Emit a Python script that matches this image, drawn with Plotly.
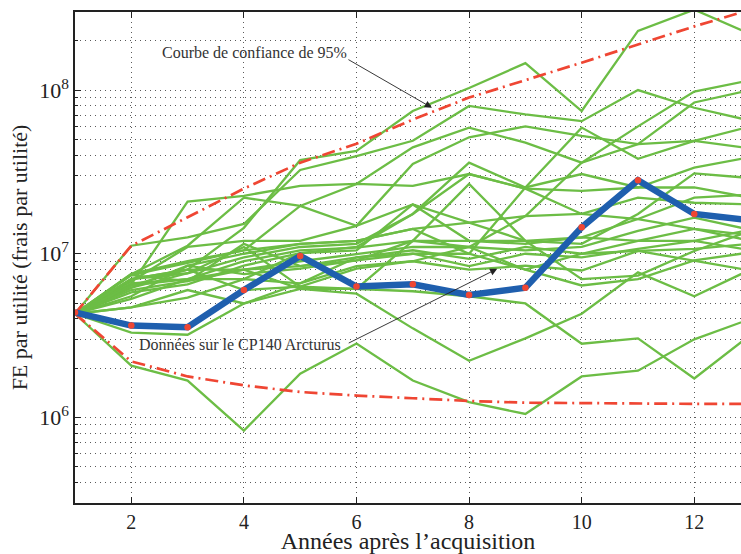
import plotly.graph_objects as go

# Années après l'acquisition
years = list(range(1, 14))

# Données réelles du CP140 Arcturus (FE par utilité)
cp140 = [4.38e6, 3.64e6, 3.56e6, 6.0e6, 9.7e6, 6.3e6, 6.5e6, 5.6e6, 6.2e6,
         1.45e7, 2.81e7, 1.75e7, 1.6e7]

# Bornes de l'intervalle de confiance à 95 %
conf_upper = [4.3e6, 1.12e7, 1.67e7, 2.5e7, 3.6e7, 4.7e7, 6.6e7, 9.0e7, 1.15e8,
              1.47e8, 1.9e8, 2.45e8, 3.1e8]
conf_lower = [4.3e6, 2.2e6, 1.78e6, 1.57e6, 1.43e6, 1.36e6, 1.31e6, 1.26e6,
              1.23e6, 1.22e6, 1.21e6, 1.21e6, 1.21e6]

# Trajectoires simulées
sim_paths = [
    [4.3e6, 7.0e6, 8.0e6, 1.44e7, 3.73e7, 4.25e7, 7.45e7, 1.03e8, 1.46e8, 7.45e7, 2.3e8, 3.1e8, 2.2e8],
    [4.3e6, 1.12e7, 1.26e7, 1.52e7, 3.25e7, 3.95e7, 4.9e7, 8.0e7, 7.1e7, 6.46e7, 1.0e8, 7.8e7, 6.5e7],
    [4.3e6, 6.5e6, 2.08e7, 2.26e7, 2.6e7, 2.67e7, 2.6e7, 3.07e7, 2.5e7, 2.42e7, 2.54e7, 2.54e7, 2.2e7],
    [4.3e6, 7.5e6, 1.12e7, 2.2e7, 1.96e7, 1.48e7, 2.0e7, 1.55e7, 1.7e7, 1.75e7, 2.2e7, 2.05e7, 2.0e7],
    [4.3e6, 7.4e6, 8.8e6, 1.05e7, 1.96e7, 2.67e7, 4.47e7, 5.9e7, 4.77e7, 3.6e7, 6.0e7, 9.8e7, 1.15e8],
    [4.3e6, 6.8e6, 1.1e7, 1.2e7, 1.2e7, 1.48e7, 3.54e7, 5.15e7, 6.0e7, 5.25e7, 4.68e7, 8.4e7, 1.0e8],
    [4.3e6, 6.2e6, 8.45e6, 1.0e7, 1.15e7, 1.2e7, 1.42e7, 1.0e7, 2.54e7, 5.9e7, 3.8e7, 4.9e7, 6.0e7],
    [4.3e6, 7.0e6, 7.6e6, 9.5e6, 1.1e7, 1.15e7, 1.75e7, 3.6e7, 2.54e7, 3.07e7, 2.54e7, 3.36e7, 3.9e7],
    [4.3e6, 6.6e6, 7.0e6, 9.0e6, 1.05e7, 1.09e7, 1.2e7, 2.67e7, 1.2e7, 1.15e7, 1.75e7, 3.1e7, 2.9e7],
    [4.3e6, 5.8e6, 6.5e6, 8.45e6, 1.01e7, 1.05e7, 2.0e7, 1.2e7, 1.15e7, 1.26e7, 1.63e7, 2.2e7, 2.3e7],
    [4.3e6, 6.4e6, 8.0e6, 8.0e6, 9.0e6, 1.0e7, 1.1e7, 1.1e7, 1.05e7, 1.1e7, 1.38e7, 1.66e7, 1.4e7],
    [4.3e6, 7.4e6, 6.8e6, 1.15e7, 8.4e6, 9.5e6, 1.05e7, 9.3e6, 1.1e7, 1.0e7, 1.2e7, 1.42e7, 1.2e7],
    [4.3e6, 5.5e6, 8.45e6, 7.5e6, 8.1e6, 9.1e6, 1.0e7, 8.4e6, 1.0e7, 9.5e6, 1.07e7, 1.2e7, 1.05e7],
    [4.3e6, 4.7e6, 5.4e6, 7.0e6, 6.6e6, 8.4e6, 9.0e6, 8.0e6, 8.45e6, 7.9e6, 1.04e7, 1.07e7, 1.15e7],
    [4.3e6, 6.2e6, 7.6e6, 1.1e7, 6.3e6, 8.1e6, 9.0e6, 1.1e7, 8.0e6, 6.4e6, 7.0e6, 9.1e6, 1.02e7],
    [4.3e6, 4.7e6, 6.0e6, 4.97e6, 6.1e6, 6.1e6, 1.2e7, 1.2e7, 1.2e7, 7.0e6, 7.35e6, 1.04e7, 1.38e7],
    [4.3e6, 6.4e6, 7.0e6, 8.0e6, 6.1e6, 5.7e6, 3.5e6, 2.22e6, 3.04e6, 4.3e6, 7.7e6, 5.5e6, 8.0e6],
    [4.3e6, 7.0e6, 8.0e6, 6.0e6, 6.3e6, 6.1e6, 5.9e6, 5.5e6, 4.97e6, 2.82e6, 3.04e6, 1.73e6, 3.2e6],
    [4.3e6, 2.07e6, 1.68e6, 8.3e5, 1.85e6, 2.83e6, 1.68e6, 1.24e6, 1.05e6, 1.78e6, 1.93e6, 3.0e6, 4.0e6],
    [4.3e6, 3.3e6, 3.2e6, 4.97e6, 6.6e6, 9.5e6, 1.0e7, 1.0e7, 8.0e6, 1.0e7, 1.04e7, 9.1e6, 7.9e6],
    [4.3e6, 7.55e6, 9.0e6, 1.05e7, 1.15e7, 1.2e7, 1.42e7, 1.55e7, 1.2e7, 1.26e7, 1.2e7, 1.2e7, 1.4e7],
    [4.3e6, 6.0e6, 6.8e6, 8.0e6, 8.4e6, 9.1e6, 1.2e7, 1.1e7, 1.7e7, 3.6e7, 4.68e7, 4.9e7, 4.4e7],
    [4.3e6, 5.3e6, 7.0e6, 7.0e6, 1.01e7, 1.1e7, 1.75e7, 3.07e7, 2.5e7, 1.75e7, 1.63e7, 1.42e7, 1.3e7],
]

x_ticks = [2, 4, 6, 8, 10, 12]
y_ticks = [1e6, 1e7, 1e8]
y_ticktext = ["10<sup>6</sup>", "10<sup>7</sup>", "10<sup>8</sup>"]
y_minor = [m * 10 ** e for e in range(5, 9) for m in range(2, 10)
           if 3e5 <= m * 10 ** e <= 3e8]

GREEN = "#6cbd45"
RED = "#ef4633"
BLUE = "#1f5fae"
FONT = "Liberation Serif"
INK = "#222"

fig = go.Figure()

for path in sim_paths:
    fig.add_trace(go.Scatter(x=years, y=path, mode="lines",
                             line=dict(color=GREEN, width=2.3), showlegend=False))

for bound in (conf_upper, conf_lower):
    fig.add_trace(go.Scatter(x=years, y=bound, mode="lines",
                             line=dict(color=RED, width=2.7, dash="13px,5px,2px,5px"),
                             showlegend=False))

fig.add_trace(go.Scatter(x=years, y=cp140, mode="lines+markers",
                         line=dict(color=BLUE, width=6.5),
                         marker=dict(color=RED, size=6.5, line=dict(width=0)),
                         showlegend=False))

grid = dict(gridcolor="#5a5a5a", griddash="1px,4px", gridwidth=1)

fig.update_xaxes(
    range=[1, 12.83], tickvals=x_ticks, ticks="inside", ticklen=6,
    tickcolor=INK, showline=True, linecolor=INK, linewidth=1.5,
    mirror="ticks", zeroline=False, showgrid=True, **grid,
    tickfont=dict(family=FONT, size=20, color=INK),
    title=dict(text="Années après l’acquisition", standoff=0,
               font=dict(family=FONT, size=24, color=INK)),
)
fig.update_yaxes(
    type="log", range=[5.4771, 8.4771], tickvals=y_ticks, ticktext=y_ticktext,
    ticks="inside", ticklen=6, tickcolor=INK,
    showline=True, linecolor=INK, linewidth=1.5, mirror=False,
    zeroline=False, showgrid=True, **grid,
    minor=dict(tickvals=y_minor, ticks="inside", ticklen=3, tickcolor=INK,
               showgrid=True, **grid),
    tickfont=dict(family=FONT, size=22, color=INK),
    title=dict(text="FE par utilité (frais par utilité)", standoff=5,
               font=dict(family=FONT, size=22, color=INK)),
)

fig.add_annotation(x=2.51, y=8.228, xref="x", yref="y", text="Courbe de confiance de 95%",
                   showarrow=False, xanchor="left", yanchor="middle",
                   font=dict(family=FONT, size=16, color="#333"))
fig.add_annotation(x=7.34, y=7.892, xref="x", yref="y", text=" ",
                   showarrow=True, ax=-85, ay=-49, arrowhead=2, arrowsize=1.6,
                   arrowwidth=0.9, arrowcolor=INK, font=dict(size=1))
fig.add_annotation(x=2.10, y=6.444, xref="x", yref="y", text="Données sur le CP140 Arcturus",
                   showarrow=False, xanchor="left", yanchor="middle",
                   font=dict(family=FONT, size=16, color="#333"))
fig.add_annotation(x=8.5, y=6.908, xref="x", yref="y", text=" ",
                   showarrow=True, ax=-150, ay=75, arrowhead=2, arrowsize=1.6,
                   arrowwidth=0.9, arrowcolor=INK, font=dict(size=1))

fig.update_layout(
    width=741, height=554,
    margin=dict(l=75, r=0, t=12, b=51),
    paper_bgcolor="white", plot_bgcolor="white",
    showlegend=False,
)

fig.write_html("out.html")
